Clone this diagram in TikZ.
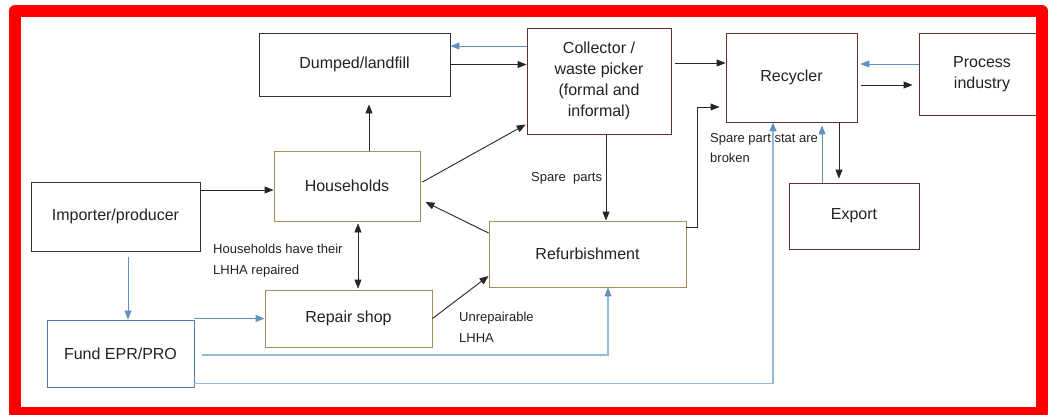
\documentclass[tikz,border=0pt]{standalone}
\usepackage{fontspec}
\setmainfont{Liberation Sans}
\usetikzlibrary{arrows.meta,calc}
\definecolor{maroonb}{RGB}{110,45,45}
\definecolor{goldb}{RGB}{170,140,85}
\definecolor{fundb}{RGB}{74,126,176}
\definecolor{bluearr}{RGB}{95,145,195}
\definecolor{paleblue}{RGB}{150,185,218}
\definecolor{txt}{RGB}{34,34,34}
\begin{document}
\begin{tikzpicture}[x=1pt,y=-1pt,
  box/.style={draw, rectangle, line width=0.9pt, inner sep=0pt, align=center,
    text=txt, font=\fontsize{16}{21}\selectfont},
  boxk/.style={box, draw=black!80},
  boxm/.style={box, draw=maroonb},
  boxg/.style={box, draw=goldb},
  boxf/.style={box, draw=fundb},
  lbl/.style={anchor=west, inner sep=0pt, align=left, text=txt,
    font=\fontsize{13}{21}\selectfont},
  blk/.style={draw=black!85, line width=0.9pt, -{Triangle[length=9pt,width=7pt]}},
  blkd/.style={draw=black!85, line width=0.9pt, {Triangle[length=9pt,width=7pt]}-{Triangle[length=9pt,width=7pt]}},
  blu/.style={draw=bluearr, line width=0.9pt, -{Triangle[length=9pt,width=7pt]}},
  pale/.style={draw=paleblue, line width=1.6pt, -{Triangle[length=9pt,width=7pt,color=bluearr]}}
]
\useasboundingbox (0,0) rectangle (1055,415);
\fill[white] (0,0) rectangle (1055,415);

% boxes
\node[boxk, minimum width=191pt, minimum height=63pt] (dump) at (354.5,64.5) {Dumped/landfill};
\node[boxm, minimum width=144pt, minimum height=106pt] (coll) at (599,81) {Collector /\\waste picker\\(formal and\\informal)};
\node[boxm, minimum width=131pt, minimum height=89pt] (recy) at (791.5,77.5) {Recycler};
\node[boxm, minimum width=126pt, minimum height=82pt] (proc) at (982,74) {Process\\industry};
\node[boxm, minimum width=130pt, minimum height=66pt] (expo) at (854,216) {Export};
\node[boxg, minimum width=146pt, minimum height=70pt] (hh) at (347,186) {Households};
\node[boxk, minimum width=169pt, minimum height=69pt] (imp) at (115.5,216.5) {Importer/producer};
\node[boxg, minimum width=197pt, minimum height=66pt] (refu) at (587.5,254) {Refurbishment};
\node[boxg, minimum width=167pt, minimum height=57pt] (rep) at (348.5,318.5) {Repair shop};
\node[boxf, minimum width=147pt, minimum height=67pt] (fund) at (120.5,353.5) {Fund EPR/PRO};

% labels
\node[lbl] (l1) at (531,178) {Spare\ \ parts};
\node[lbl] (l2) at (710,148) {Spare part stat are\\[-1pt]broken};
\node[lbl] (l3) at (213,261) {Households have their\\LHHA repaired};
\node[lbl] (l4) at (459,327.5) {Unrepairable\\LHHA};

% connectors
\draw[blu] ([yshift=35pt]coll.west) -- ([yshift=35pt]coll.west -| dump.east);
\draw[blk] (dump.east) -- (dump.east -| coll.west);
\draw[blk, shorten >=8pt] ([xshift=22pt]hh.north) -- ([xshift=22pt]hh.north |- dump.south);
\draw[blk, shorten >=1pt] ([xshift=2pt,yshift=4pt]hh.east) -- ([yshift=-43pt]coll.west);
\draw[blk] ([yshift=26.5pt]imp.east) -- ([yshift=26.5pt]imp.east -| hh.west);
\draw[blk] ([yshift=21pt]refu.west) -- ([xshift=5pt,yshift=-16pt]hh.east);
\draw[blkd, shorten <=2pt, shorten >=1pt] ([xshift=11pt]hh.south) -- ([xshift=11pt]hh.south |- rep.north);
\draw[blk] (rep.east) -- ([yshift=-22pt]refu.west);
\draw[blk] ([xshift=7pt]coll.south) -- ([xshift=7pt]coll.south |- refu.north);
\draw[blk] ([xshift=4pt,yshift=18pt]coll.east) -- ([yshift=18pt]coll.east -| recy.west);
\draw[blu, shorten >=3pt] ([yshift=10pt]proc.west) -- ([yshift=10pt]proc.west -| recy.east);
\draw[blk, shorten >=6pt] ([xshift=4pt,yshift=-7.5pt]recy.east) -- ([yshift=-7.5pt]recy.east -| proc.west);
\draw[blk, shorten >=6pt] ([yshift=27pt]refu.east) -- ++(11,0) |- ([yshift=-29.5pt]recy.west);
\draw[blk, shorten >=4pt] ([xshift=47.5pt]recy.south) -- ([xshift=47.5pt]recy.south |- expo.north);
\draw[blu, shorten >=3pt] ([xshift=30.5pt]recy.south |- expo.north) -- ([xshift=30.5pt]recy.south);
\draw[blu] ([xshift=12.5pt,yshift=-6pt]imp.south) -- ([xshift=12.5pt]imp.south |- fund.north);
\draw[blu] (fund.north east |- rep.west) -- (rep.west);
\draw[pale] ([xshift=8pt,yshift=-1.5pt]fund.east) -| ([xshift=20.5pt]refu.south);
\draw[pale] ([yshift=4pt]fund.south east) -| ([xshift=-18.5pt]recy.south);

% red frame
\draw[red, line width=12pt, line join=round] (15,11) rectangle (1042,412.5);
\end{tikzpicture}
\end{document}
